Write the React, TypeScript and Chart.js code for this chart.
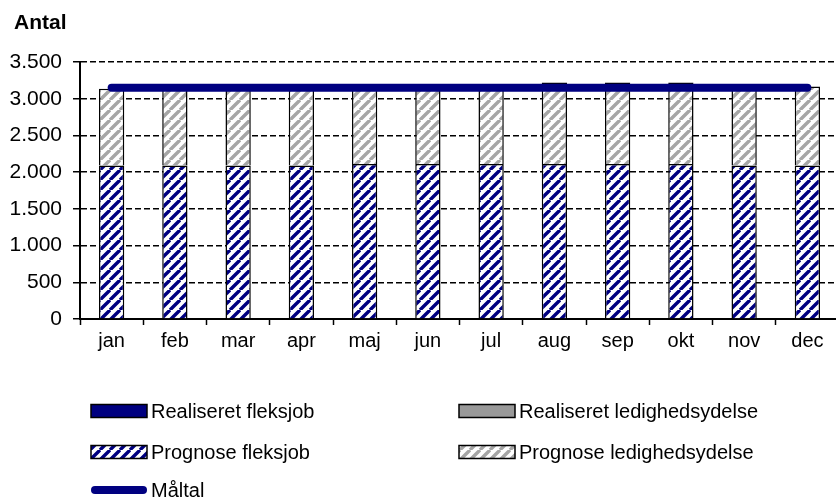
import React, { useEffect, useRef } from "react";
import { Chart, registerables } from "chart.js";

Chart.register(...registerables);

const months = ["jan", "feb", "mar", "apr", "maj", "jun", "jul", "aug", "sep", "okt", "nov", "dec"];
const realiseretFleksjob: (number | null)[] = [null, null, null, null, null, null, null, null, null, null, null, null];
const realiseretLedighedsydelse: (number | null)[] = [null, null, null, null, null, null, null, null, null, null, null, null];
const prognoseFleksjob = [2090, 2090, 2090, 2090, 2110, 2110, 2110, 2110, 2110, 2110, 2090, 2090];
const prognoseLedighedsydelse = [1045, 1050, 1055, 1055, 1050, 1050, 1060, 1110, 1110, 1110, 1050, 1075];
const maaltal = [3150, 3150, 3150, 3150, 3150, 3150, 3150, 3150, 3150, 3150, 3150, 3150];
const yMax = 3500;
const yStep = 500;

const FONT = '"Liberation Sans", Arial, sans-serif';
const NAVY = "#000080";

function makePattern(color: string): CanvasPattern | string {
  const n = 10;
  const c = document.createElement("canvas");
  c.width = n;
  c.height = n;
  const g = c.getContext("2d");
  if (!g) return color;
  g.fillStyle = "#ffffff";
  g.fillRect(0, 0, n, n);
  g.strokeStyle = color;
  g.lineWidth = 3.4;
  g.beginPath();
  for (const o of [-n, 0, n]) {
    g.moveTo(o, n);
    g.lineTo(o + n, 0);
  }
  g.stroke();
  return g.createPattern(c, "repeat") || color;
}

function fmt(v: number): string {
  const s = String(Math.round(v));
  return s.replace(/\B(?=(\d{3})+(?!\d))/g, ".");
}

const titlePlugin = {
  id: "cornerTitle",
  afterDraw(chart: any, _a: any, opts: any) {
    const ctx = chart.ctx;
    ctx.save();
    ctx.font = `bold ${opts.size}px ${FONT}`;
    ctx.fillStyle = "#000";
    ctx.textBaseline = "alphabetic";
    ctx.textAlign = "left";
    ctx.fillText(opts.text, opts.x, opts.y);
    ctx.restore();
  },
};

const gridLegendPlugin = {
  id: "gridLegend",
  afterDraw(chart: any, _a: any, opts: any) {
    const ctx = chart.ctx;
    const datasets = chart.data.datasets;
    ctx.save();
    ctx.font = `${opts.size}px ${FONT}`;
    ctx.textBaseline = "middle";
    ctx.textAlign = "left";
    datasets.forEach((ds: any, i: number) => {
      const col = i % 2;
      const row = Math.floor(i / 2);
      const x = opts.colX[col];
      const y = opts.rowY[row];
      const w = opts.boxW;
      const h = opts.boxH;
      if (ds.type === "line") {
        ctx.save();
        ctx.strokeStyle = ds.borderColor;
        ctx.lineWidth = ds.borderWidth;
        ctx.lineCap = "round";
        ctx.beginPath();
        ctx.moveTo(x + 4, y);
        ctx.lineTo(x + w - 4, y);
        ctx.stroke();
        ctx.restore();
      } else {
        ctx.fillStyle = ds.backgroundColor;
        ctx.fillRect(x, y - h / 2, w, h);
        ctx.strokeStyle = "#000";
        ctx.lineWidth = 1.5;
        ctx.strokeRect(x, y - h / 2, w, h);
      }
      ctx.fillStyle = "#000";
      ctx.fillText(ds.label, x + w + opts.gap, y + 1);
    });
    ctx.restore();
  },
};

export default function App() {
  const ref = useRef<HTMLCanvasElement | null>(null);

  useEffect(() => {
    if (!ref.current) return;
    const blueStripes = makePattern(NAVY);
    const grayStripes = makePattern("#a6a6a6");
    const chart = new Chart(ref.current, {
      type: "bar",
      data: {
        labels: months,
        datasets: [
          {
            type: "bar",
            label: "Realiseret fleksjob",
            data: realiseretFleksjob,
            backgroundColor: NAVY,
            borderColor: "#000",
            borderWidth: 1.5,
            stack: "s",
          } as any,
          {
            type: "bar",
            label: "Realiseret ledighedsydelse",
            data: realiseretLedighedsydelse,
            backgroundColor: "#999999",
            borderColor: "#000",
            borderWidth: 1.5,
            stack: "s",
          },
          {
            type: "bar",
            label: "Prognose fleksjob",
            data: prognoseFleksjob,
            backgroundColor: blueStripes,
            borderColor: "#000",
            borderWidth: 1.5,
            stack: "s",
          },
          {
            type: "bar",
            label: "Prognose ledighedsydelse",
            data: prognoseLedighedsydelse,
            backgroundColor: grayStripes,
            borderColor: "#000",
            borderWidth: 1.5,
            stack: "s",
          },
          {
            type: "line",
            label: "Måltal",
            data: maaltal,
            borderColor: NAVY,
            backgroundColor: NAVY,
            borderWidth: 8,
            borderCapStyle: "round",
            pointRadius: 0,
            fill: false,
            stack: "line",
            order: -1,
          },
        ] as any,
      },
      options: {
        animation: false,
        responsive: false,
        devicePixelRatio: 1,
        datasets: { bar: { categoryPercentage: 1, barPercentage: 0.4 } },
        layout: { padding: { top: 62, right: 11, left: 0, bottom: 0 } },
        plugins: {
          legend: { display: false },
          tooltip: { enabled: false },
          title: { display: false },
          cornerTitle: { text: "Antal", x: 14, y: 29, size: 21 },
          gridLegend: {
            colX: [91, 459],
            rowY: [411, 452, 490],
            boxW: 56,
            boxH: 13,
            gap: 4,
            size: 20,
          },
        } as any,
        scales: {
          x: {
            stacked: true,
            offset: true,
            afterFit: (s: any) => {
              s.height = 181;
            },
            grid: {
              offset: true,
              drawOnChartArea: false,
              drawTicks: true,
              tickLength: 6,
              tickColor: "#000",
              tickWidth: 1.5,
            },
            border: { display: true, color: "#000", width: 2 },
            ticks: {
              color: "#000",
              font: { family: FONT, size: 20 },
              padding: 4,
              maxRotation: 0,
              autoSkip: false,
            },
          },
          y: {
            stacked: true,
            min: 0,
            max: yMax,
            afterFit: (s: any) => {
              s.width = 80;
            },
            grid: {
              color: "#000",
              lineWidth: 1.5,
              drawTicks: true,
              tickLength: 7,
              tickColor: "#000",
              tickWidth: 1.5,
            },
            border: { display: true, color: "#000", width: 2, dash: [6, 3] },
            ticks: {
              stepSize: yStep,
              color: "#000",
              font: { family: FONT, size: 21 },
              padding: 11,
              callback: (v: any) => fmt(Number(v)),
            },
          },
        },
      },
      plugins: [titlePlugin, gridLegendPlugin],
    });
    return () => chart.destroy();
  }, []);

  return (
    <div
      style={{
        position: "absolute",
        left: 0,
        top: 0,
        width: 836,
        height: 500,
        overflow: "hidden",
        background: "#fff",
      }}
    >
      <canvas ref={ref} width={850} height={500} style={{ width: 850, height: 500, display: "block" }} />
    </div>
  );
}
